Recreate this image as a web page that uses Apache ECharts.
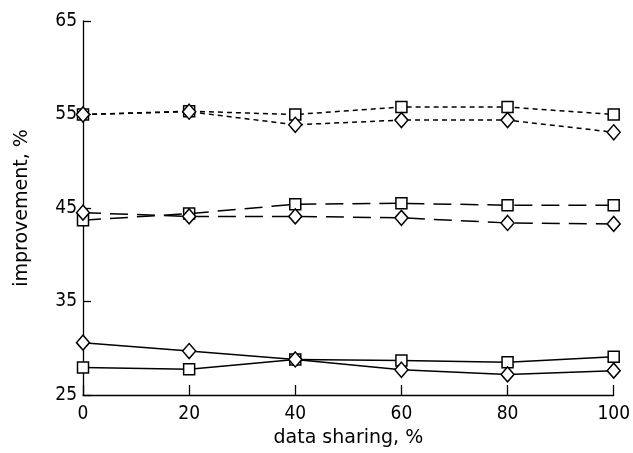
<!DOCTYPE html>
<html><head><meta charset="utf-8">
<script src="https://cdn.jsdelivr.net/npm/echarts@6/dist/echarts.min.js"></script>
<style>html,body{margin:0;padding:0;background:#fff}#c{width:633px;height:453px}</style>
</head><body><div id="c"></div>
<script>
const xValues = [0, 20, 40, 60, 80, 100];
const shortSquares = [55.0, 55.35, 55.0, 55.8, 55.8, 55.0];
const shortDiamonds = [55.0, 55.3, 53.9, 54.4, 54.4, 53.1];
const longSquares = [43.7, 44.4, 45.4, 45.5, 45.3, 45.3];
const longDiamonds = [44.5, 44.1, 44.1, 43.95, 43.4, 43.3];
const solidSquares = [27.95, 27.75, 28.8, 28.7, 28.5, 29.1];
const solidDiamonds = [30.6, 29.7, 28.8, 27.7, 27.2, 27.6];
const xTicks = [0, 20, 40, 60, 80, 100];
const yTicks = [25, 35, 45, 55, 65];

const FONT = 'DejaVu Sans, sans-serif';
const TICKFONT = 'DejaVu Sans Condensed, DejaVu Sans, sans-serif';
function pairs(arr){ return xValues.map((x,i)=>[x, arr[i]]); }
function mk(name, data, symbol, dash){
  return {
    name, type:'line', data: pairs(data),
    symbol: symbol === 'rect' ? 'rect' : 'diamond',
    symbolSize: symbol === 'rect' ? 11 : [13, 15],
    showSymbol: true,
    lineStyle: {color:'#000', width: 1.5, type: dash},
    itemStyle: {color:'#fff', borderColor:'#000', borderWidth:1.5},
    z: 3, animation:false
  };
}
const chart = echarts.init(document.getElementById('c'), null, {renderer:'canvas'});
chart.setOption({
  animation:false,
  grid:{left:83, right:13, top:21, bottom:58, containLabel:false},
  xAxis:{
    type:'value', min:0, max:100, interval:20,
    name:'data sharing, %', nameLocation:'middle', nameGap:29,
    nameTextStyle:{fontFamily:FONT, fontSize:19, color:'#000'},
    axisLine:{show:true, lineStyle:{color:'#000', width:1.3}},
    axisTick:{show:true, inside:true, length:10, lineStyle:{color:'#000', width:1.3}},
    axisLabel:{fontFamily:TICKFONT, fontSize:19, color:'#000', margin:10,
      formatter:v=> xTicks.includes(v) ? String(v) : ''},
    splitLine:{show:false}
  },
  yAxis:{
    type:'value', min:25, max:65, interval:10,
    name:'improvement, %', nameLocation:'middle', nameGap:51,
    nameTextStyle:{fontFamily:FONT, fontSize:19, color:'#000'},
    axisLine:{show:true, lineStyle:{color:'#000', width:1.3}},
    axisTick:{show:true, inside:true, length:8, lineStyle:{color:'#000', width:1.3}},
    axisLabel:{fontFamily:TICKFONT, fontSize:19, color:'#000', margin:6,
      formatter:v=> yTicks.includes(v) ? String(v) : ''},
    splitLine:{show:false}
  },
  series:[
    mk('ss', shortSquares, 'rect', [5,4]),
    mk('sd', shortDiamonds, 'diamond', [5,4]),
    mk('ls', longSquares, 'rect', [18,9]),
    mk('ld', longDiamonds, 'diamond', [18,9]),
    mk('s1', solidSquares, 'rect', 'solid'),
    mk('s2', solidDiamonds, 'diamond', 'solid')
  ]
});
</script></body></html>
